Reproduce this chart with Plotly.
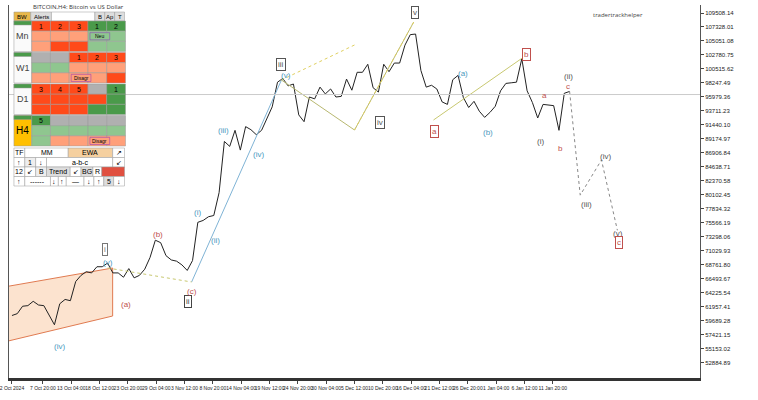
import pandas as pd
import plotly.graph_objects as go

# daily closes (k USD), 2 Oct 2024 .. 15 Jan 2025
closes = [60.5, 60.8, 62.0, 62.1, 62.8, 62.2, 62.1, 60.6, 59.0, 62.4, 63.1, 62.9, 66.0, 67.0, 67.6,
          67.4, 68.4, 68.4, 69.0, 67.4, 67.4, 66.7, 68.1, 66.6, 67.0, 68.0, 69.9, 72.7, 72.3, 70.2,
          69.5, 69.3, 68.7, 67.8, 69.4, 75.6, 75.9, 76.5, 76.7, 80.4, 88.7, 87.9, 90.5, 87.3, 91.1,
          90.6, 89.8, 90.5, 92.3, 94.3, 98.3, 98.9, 97.7, 98.0, 93.0, 91.9, 95.9, 95.6, 97.5, 96.4,
          97.2, 95.9, 96.0, 98.8, 97.0, 99.9, 99.9, 101.2, 97.4, 96.7, 101.2, 100.0, 101.4, 101.4, 104.3,
          106.0, 106.1, 100.2, 97.5, 97.8, 97.2, 95.1, 94.7, 98.7, 99.4, 95.8, 94.2, 95.2, 93.6, 92.6,
          93.4, 94.4, 96.9, 98.1, 98.2, 98.3, 102.1, 96.9, 95.0, 92.5, 94.7, 94.6, 94.5, 90.5, 96.5, 96.8]
dates = pd.date_range("2024-10-02", periods=len(closes), freq="D")

proj_dates = ["2025-01-15", "2025-01-17", "2025-01-21", "2025-01-24"]
proj_prices = [96.8, 80.0, 85.7, 74.3]

y_ticks = [109508.14, 107328.01, 105051.08, 102780.75, 100515.62, 98247.49, 95979.36, 93711.23,
           91440.10, 89174.97, 86906.84, 84638.71, 82370.58, 80102.45, 77834.32, 75566.19, 73298.06,
           71029.93, 68761.80, 66493.67, 64225.54, 61957.41, 59689.28, 57421.15, 55153.02, 52884.89]
x_tick_dates = ["2024-10-02", "2024-10-07 20:00", "2024-10-13 04:00", "2024-10-18 12:00",
                "2024-10-23 20:00", "2024-10-29 04:00", "2024-11-03 12:00", "2024-11-08 20:00",
                "2024-11-14 04:00", "2024-11-19 12:00", "2024-11-24 20:00", "2024-11-30 04:00",
                "2024-12-05 12:00", "2024-12-10 20:00", "2024-12-16 04:00", "2024-12-21 12:00",
                "2024-12-26 20:00", "2025-01-01 04:00", "2025-01-06 12:00", "2025-01-11 20:00"]
x_tick_text = ["2 Oct 2024", "7 Oct 20:00", "13 Oct 04:00", "18 Oct 12:00", "23 Oct 20:00",
               "29 Oct 04:00", "3 Nov 12:00", "8 Nov 20:00", "14 Nov 04:00", "19 Nov 12:00",
               "24 Nov 20:00", "30 Nov 04:00", "5 Dec 12:00", "10 Dec 20:00", "16 Dec 04:00",
               "21 Dec 12:00", "26 Dec 20:00", "1 Jan 04:00", "6 Jan 12:00", "11 Jan 20:00"]

T0 = pd.Timestamp("2024-10-02")
def px_date(px):
    return T0 + pd.Timedelta(days=(px - 3) / 5.38)
def py_price(py):
    return 109508.14 - (py - 13) * 2268.13 / 14

fig = go.Figure()
# orange channel
fig.add_trace(go.Scatter(x=[px_date(p) for p in [-5, 105, 105, -5, -5]],
                         y=[py_price(p) for p in [287, 268, 316, 342, 287]],
                         fill="toself", fillcolor="rgba(250,200,160,0.5)",
                         line=dict(color="#e07a50", width=1), mode="lines", hoverinfo="skip"))
fig.add_trace(go.Scatter(x=dates, y=[c * 1000 for c in closes], mode="lines",
                         line=dict(color="#222", width=1)))
# wave connectors
def seg(xs, ys, color, dash="solid"):
    fig.add_trace(go.Scatter(x=[px_date(p) for p in xs], y=[py_price(p) for p in ys], mode="lines",
                             line=dict(color=color, width=1, dash=dash), hoverinfo="skip"))
seg([185, 276], [282, 80], "#7fb3d5")
seg([100, 185], [268, 282], "#c8c870", "dot")
seg([276, 350, 410], [80, 130, 22], "#b8b870")
seg([276, 350], [80, 45], "#e0d060", "dot")
seg([430, 520], [120, 58], "#c8c870")
seg([350, 410], [130, 22], "#e0d060", "dot")
fig.add_trace(go.Scatter(x=proj_dates, y=[p * 1000 for p in proj_prices], mode="lines",
                         line=dict(color="#888", width=1, dash="dot")))

labels = [("i", 97, 249, "#777", True), ("ii", 181, 301, "#444", True), ("iii", 276, 64, "#555", True),
          ("iv", 376, 122, "#555", True), ("v", 411, 12, "#555", True), ("(iv)", 51, 346, "#4a9ac0", False),
          ("(v)", 100, 262, "#4a9ac0", False), ("(a)", 119, 304, "#c0504d", False),
          ("(b)", 151, 234, "#c0504d", False), ("(c)", 185, 291, "#c0504d", False),
          ("(i)", 191, 212, "#4a9ac0", False), ("(ii)", 209, 240, "#4a9ac0", False),
          ("(iii)", 217, 130, "#4a9ac0", False), ("(iv)", 253, 154, "#4a9ac0", False),
          ("(v)", 281, 75, "#4a9ac0", False), ("a", 431, 131, "#c0504d", True),
          ("(a)", 460, 73, "#4a9ac0", False), ("(b)", 485, 132, "#4a9ac0", False),
          ("b", 524, 54, "#c0504d", True), ("(i)", 538, 141, "#555", False), ("a", 542, 95, "#c0504d", False),
          ("b", 559, 148, "#c0504d", False), ("c", 566, 86, "#c0504d", False), ("(ii)", 567, 76, "#555", False),
          ("(iii)", 585, 204, "#555", False), ("(iv)", 604, 156, "#555", False), ("(v)", 617, 233, "#555", False),
          ("c", 618, 242, "#c0504d", True)]
for t, x, y, c, circ in labels:
    fig.add_annotation(x=px_date(x), y=py_price(y), text=t, showarrow=False,
                       font=dict(size=8, color=c, family="Arial"),
                       bordercolor=c if circ else None, borderwidth=1 if circ else 0,
                       borderpad=1, bgcolor="white" if circ else None)

fig.add_hline(y=96300, line=dict(color="#ccc", width=1))

# indicator panel (pixel helpers)
W, H, TOP = 700, 373, 5
def xp(p): return p / W
def yp(p): return 1 - (p - TOP) / H
shapes = []
anns = []
def cell(x0, y0, x1, y1, fill, text="", tc="#000", bold=False, size=7, line="#999"):
    shapes.append(dict(type="rect", xref="paper", yref="paper", x0=xp(x0), x1=xp(x1), y0=yp(y1), y1=yp(y0),
                       fillcolor=fill, line=dict(color=line, width=0.5)))
    if text:
        anns.append(dict(xref="paper", yref="paper", x=xp((x0 + x1) / 2), y=yp((y0 + y1) / 2), text=text,
                         showarrow=False, font=dict(size=size, color=tc, family="Arial"),
                         xanchor="center", yanchor="middle"))

cell(3, 6, 147, 188, "#f2f2f2", line="#999")
R, S, G, LG, DG = "#ff4a1a", "#ffa07a", "#b0b0b0", "#8fc68f", "#4a9a4a"
blocks = [("Mn", [[R, R, R, DG, DG], [S, S, S, LG, LG], [S, R, R, LG, LG]], ["1", "2", "3", "1", "2"], (1, 3, "Neu")),
          ("W1", [[G, G, R, R, R], [LG, LG, S, S, S], [S, S, S, S, R]], ["", "", "1", "2", "3"], (2, 2, "Disagr")),
          ("D1", [[R, R, R, G, DG], [R, R, R, R, DG], [R, R, R, DG, DG]], ["3", "4", "5", "", "1"], None),
          ("H4", [[DG, G, G, G, G], [LG, LG, LG, LG, LG], [LG, S, S, S, S]], ["5", "", "", "", ""], (2, 3, "Disagr"))]
cell(5, 12, 22, 21, "#e8b84a", "BW", bold=True, size=6)
cell(22, 12, 43, 21, "#ddd", "Alerts", size=6)
cell(43, 12, 87, 21, "#fff")
cell(87, 12, 97, 21, "#ddd", "B", size=6)
cell(97, 12, 107, 21, "#ddd", "Ap", size=6)
cell(107, 12, 117, 21, "#ddd", "T", size=6)
anns.append(dict(xref="paper", yref="paper", x=xp(22), y=yp(6.5), text="BITCOIN,H4: Bitcoin vs US Dollar",
                 showarrow=False, xanchor="left", yanchor="middle", font=dict(size=6, color="#333")))
y0 = 21
for name, rows, nums, tag in blocks:
    h = 30.5
    cell(5, y0, 23, y0 + h, "#ffc000" if name == "H4" else "#fafafa", name,
         size=10 if name == "H4" else 9, tc="#000" if name == "H4" else "#444")
    cell(5, y0, 23, y0 + 4, DG)
    for r in range(3):
        for c in range(5):
            cell(23 + 19 * c, y0 + r * h / 3, 42 + 19 * c, y0 + (r + 1) * h / 3, rows[r][c],
                 nums[c] if r == 0 else "", size=7)
    if tag:
        r, c, t = tag
        cell(25 + 19 * c, y0 + r * h / 3 + 1.5, 40 + 19 * c + 5, y0 + (r + 1) * h / 3 - 1.5, rows[r][c], t,
             size=5, line="#9030c0")
    y0 += h + 1
rw = 9.5
rows2 = [[(5, 16, "TF", "#fff"), (16, 60, "MM", "#fff"), (60, 105, "EWA", "#f5d0a0"), (105, 117, "↗", "#fff")],
         [(5, 16, "↑", "#fff"), (16, 27, "1", "#eee"), (27, 38, "↓", "#fff"), (38, 105, "a-b-c", "#fff"), (105, 117, "↙", "#fff")],
         [(5, 16, "12", "#fff"), (16, 27, "↙", "#fff"), (27, 38, "B", "#eee"), (38, 62, "Trend", "#ddd"), (62, 73, "↙", "#fff"),
          (73, 85, "BG", "#ddd"), (85, 94, "R", "#fff"), (94, 117, "", "#e05040")],
         [(5, 16, "↑", "#fff"), (16, 42, "------", "#fff"), (42, 50, "↓", "#fff"), (50, 58, "↑", "#fff"), (58, 76, "—", "#fff"),
          (76, 86, "↓", "#fff"), (86, 96, "↑", "#fff"), (96, 106, "5", "#ddd"), (106, 117, "↓", "#fff")]]
for i, row in enumerate(rows2):
    for a, b, t, f in row:
        cell(a, 148 + i * rw, b, 148 + (i + 1) * rw, f, t, size=7)

fig.update_layout(
    width=758, height=400, margin=dict(l=0, r=58, t=5, b=22), showlegend=False,
    plot_bgcolor="white", paper_bgcolor="white", shapes=shapes, annotations=list(fig.layout.annotations) + anns,
    xaxis=dict(range=[px_date(0), px_date(700)], tickvals=x_tick_dates, ticktext=x_tick_text, tickangle=0,
               tickfont=dict(size=5, family="Arial", color="#222"), showgrid=False, ticks="outside",
               ticklen=3, showline=True, linecolor="#333", linewidth=3, mirror=False,
               ticklabeloverflow="allow"),
    yaxis=dict(range=[py_price(378), py_price(5)], side="right", tickvals=y_ticks,
               ticktext=[f"{v:.2f}" for v in y_ticks], tickfont=dict(size=6, family="Arial", color="#222"),
               showgrid=False, ticks="outside", ticklen=3, showline=True, linecolor="#555", mirror=True),
)
fig.add_annotation(xref="paper", yref="paper", x=0.92, y=0.99, text="tradertrackhelper", showarrow=False,
                   xanchor="right", yanchor="top", font=dict(size=6, color="#444"))
fig.write_html("out.html", config={"displayModeBar": False},
               post_script="document.body.style.margin='0';")
